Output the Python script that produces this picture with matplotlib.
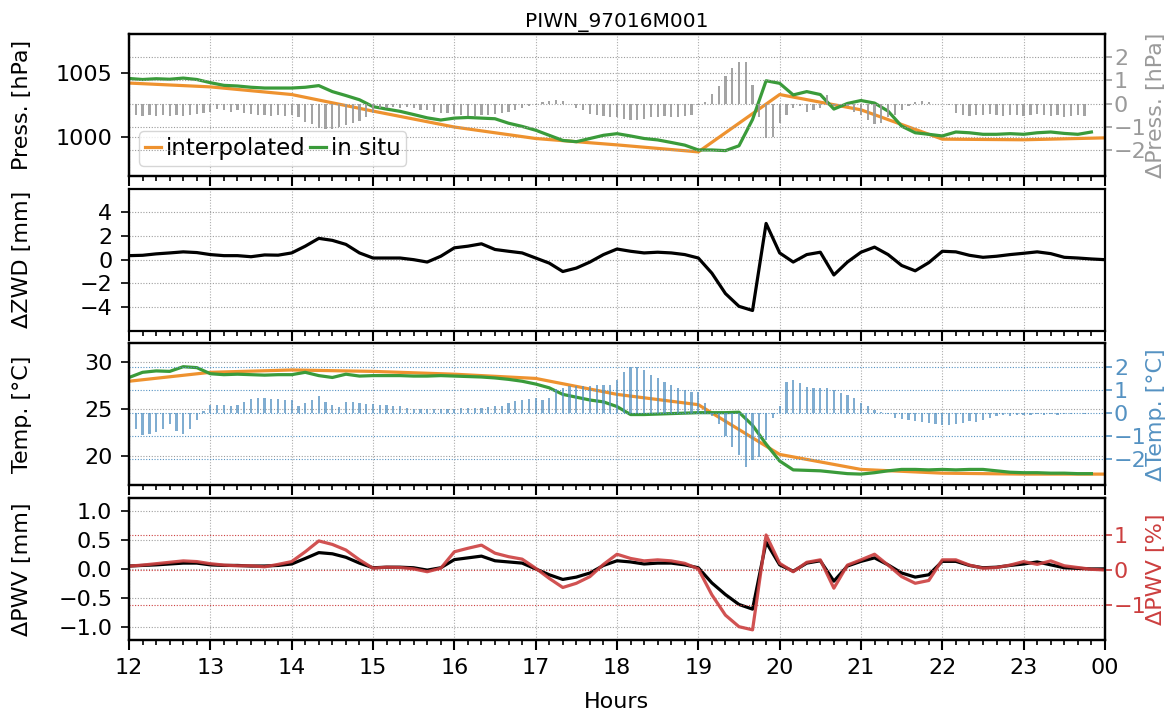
import matplotlib
matplotlib.use("Agg")
import matplotlib.pyplot as plt
import numpy as np
from matplotlib.ticker import FuncFormatter, MultipleLocator

STATION = "PIWN_97016M001"

# time axes (hours after midnight of the previous day, 24 = 00)
t10 = 12 + np.arange(73) / 6          # 10-min samples 12:00 .. 24:00
t_hour = np.arange(12, 25)            # hourly interpolated values
t5 = 12 + np.arange(1, 144) / 12      # 5-min difference bars 12:05 .. 23:55
nan = np.nan

# --- pressure [hPa]
press_interp = [1004.2, 1003.9, 1003.3, 1002.0, 1000.75, 999.85, 999.35,
                998.8, 1003.3, 1002.1, 999.8, 999.75, 999.9]
press_insitu = [
    1004.56, 1004.48, 1004.54, 1004.50, 1004.59, 1004.48,
    1004.23, 1004.02, 1003.97, 1003.87, 1003.81, 1003.81,
    1003.81, 1003.87, 1004.00, 1003.53, 1003.22, 1002.89,
    1002.35, 1002.16, 1001.98, 1001.73, 1001.47, 1001.30,
    1001.45, 1001.50, 1001.45, 1001.40, 1001.05, 1000.80,
    1000.50, 1000.10, 999.70, 999.60, 999.85, 1000.10,
    1000.23, 1000.05, 999.85, 999.74, 999.54, 999.33,
    998.95, 998.95, 998.90, 999.28, 1001.34, 1004.38,
    1004.18, 1003.27, 1003.53, 1003.30, 1002.16, 1002.60,
    1002.83, 1002.63, 1002.00, 1000.82, 1000.30, 1000.18,
    1000.05, 1000.36, 1000.30, 1000.18, 1000.18, 1000.23,
    1000.18, 1000.30, 1000.36, 1000.25, 1000.18, 1000.36,
    nan]
press_diff = [
    -0.50, -0.55, -0.50, -0.55, -0.50, -0.55, -0.50, -0.55, -0.50, -0.45, -0.40, -0.35,
    -0.25, -0.30, -0.35, -0.30, -0.40, -0.45, -0.50, -0.50, -0.55, -0.50, -0.55, -0.50,
    -0.60, -0.80, -0.90, -1.05, -1.10, -1.10, -1.00, -0.95, -0.85, -0.75, -0.60, -0.40,
    -0.20, -0.20, -0.15, -0.20, -0.15, -0.20, -0.30, -0.30, -0.35, -0.40, -0.40, -0.45,
    -0.50, -0.55, -0.55, -0.50, -0.50, -0.45, -0.40, -0.35, -0.30, -0.20, -0.10, -0.05,
    0.05, 0.10, 0.15, 0.10, 0.00, -0.20, -0.30, -0.45, -0.50, -0.55, -0.60, -0.60,
    -0.65, -0.70, -0.70, -0.65, -0.60, -0.60, -0.55, -0.60, -0.60, -0.55, -0.50, -0.05,
    0.05, 0.40, 0.75, 1.20, 1.55, 1.80, 1.80, 0.80, -0.60, -1.50, -1.45, -0.85,
    -0.50, -0.20, -0.10, -0.35, -0.30, -0.20, 0.35, -0.10, -0.05, -0.10, -0.35, -0.50,
    -0.70, -0.90, -0.85, -0.60, -0.50, -0.30, -0.10, 0.05, 0.10, 0.05, 0.00, 0.00,
    -0.05, -0.40, -0.50, -0.55, -0.50, -0.50, -0.45, -0.50, -0.55, -0.50, -0.50, -0.55,
    -0.50, -0.45, -0.50, -0.55, -0.50, -0.60, -0.55, -0.50, -0.55, nan, nan]

# --- zenith wet delay difference [mm]
zwd_diff = [
    0.34, 0.37, 0.49, 0.57, 0.66, 0.60,
    0.43, 0.34, 0.34, 0.25, 0.40, 0.38,
    0.57, 1.14, 1.80, 1.63, 1.29, 0.57,
    0.14, 0.14, 0.14, 0.00, -0.20, 0.29,
    1.00, 1.14, 1.34, 0.86, 0.71, 0.57,
    0.14, -0.29, -1.00, -0.71, -0.20, 0.43,
    0.90, 0.71, 0.57, 0.63, 0.57, 0.43,
    0.14, -1.14, -2.86, -3.94, -4.29, 3.06,
    0.57, -0.20, 0.43, 0.63, -1.29, -0.20,
    0.63, 1.06, 0.43, -0.49, -0.94, -0.25,
    0.71, 0.66, 0.37, 0.20, 0.29, 0.43,
    0.54, 0.66, 0.51, 0.20, 0.14, 0.06,
    0.00]

# --- temperature [degC]
temp_interp = [28.0, 28.95, 29.2, 29.05, 28.75, 28.3, 26.6,
               25.5, 20.2, 18.6, 18.2, 18.1, 18.1]
temp_insitu = [
    28.40, 28.95, 29.10, 29.05, 29.55, 29.45,
    28.80, 28.70, 28.75, 28.70, 28.65, 28.70,
    28.70, 28.95, 28.60, 28.40, 28.75, 28.55,
    28.60, 28.60, 28.60, 28.55, 28.55, 28.60,
    28.55, 28.50, 28.45, 28.35, 28.20, 28.00,
    27.70, 27.30, 26.60, 26.30, 26.00, 25.80,
    25.30, 24.45, 24.45, 24.50, 24.55, 24.60,
    24.65, 24.65, 24.65, 24.70, 23.30, 21.30,
    19.50, 18.55, 18.50, 18.45, 18.30, 18.15,
    18.10, 18.25, 18.45, 18.60, 18.60, 18.55,
    18.60, 18.55, 18.60, 18.60, 18.45, 18.30,
    18.25, 18.25, 18.20, 18.20, 18.15, 18.15,
    nan]
temp_diff = [
    -0.72, -0.97, -0.94, -0.84, -0.70, -0.50, -0.80, -0.94, -0.72, -0.30, 0.10, 0.36,
    0.32, 0.32, 0.29, 0.32, 0.46, 0.62, 0.65, 0.65, 0.62, 0.62, 0.58, 0.55,
    0.29, 0.43, 0.55, 0.72, 0.46, 0.36, 0.26, 0.46, 0.46, 0.43, 0.40, 0.40,
    0.36, 0.32, 0.29, 0.29, 0.22, 0.17, 0.17, 0.17, 0.17, 0.17, 0.17, 0.17,
    0.20, 0.22, 0.22, 0.22, 0.25, 0.29, 0.30, 0.43, 0.50, 0.58, 0.60, 0.65,
    0.58, 0.65, 1.05, 1.10, 1.15, 1.15, 1.15, 1.15, 1.20, 1.20, 1.20, 1.43,
    1.79, 2.00, 2.00, 1.86, 1.64, 1.50, 1.36, 1.21, 1.07, 1.00, 0.93, 0.93,
    0.43, -0.14, -0.50, -1.00, -1.50, -1.86, -2.36, -2.07, -1.93, -1.20, -0.21, 0.29,
    1.36, 1.43, 1.29, 1.14, 1.10, 1.10, 1.07, 1.00, 0.86, 0.79, 0.64, 0.43,
    0.29, 0.14, 0.04, -0.04, -0.21, -0.29, -0.33, -0.36, -0.39, -0.43, -0.47, -0.53,
    -0.53, -0.47, -0.43, -0.36, -0.39, -0.33, -0.21, -0.14, -0.10, -0.14, -0.10, -0.10,
    -0.10, -0.07, -0.10, -0.07, -0.10, -0.04, -0.07, -0.02, -0.05, nan, nan]

# --- precipitable water vapour difference [mm] and [%]
pwv_diff_mm = [
    0.05, 0.06, 0.07, 0.085, 0.10, 0.10,
    0.07, 0.06, 0.06, 0.05, 0.05, 0.06,
    0.085, 0.18, 0.28, 0.26, 0.20, 0.10,
    0.02, 0.03, 0.03, 0.02, -0.02, 0.02,
    0.16, 0.19, 0.22, 0.14, 0.12, 0.10,
    0.00, -0.10, -0.18, -0.14, -0.07, 0.06,
    0.14, 0.12, 0.085, 0.10, 0.10, 0.07,
    0.02, -0.24, -0.44, -0.61, -0.69, 0.46,
    0.07, -0.04, 0.10, 0.14, -0.21, 0.05,
    0.13, 0.19, 0.07, -0.07, -0.14, -0.10,
    0.13, 0.13, 0.06, 0.02, 0.03, 0.06,
    0.085, 0.12, 0.07, 0.02, 0.01, 0.00,
    0.00]
pwv_diff_pct = [
    0.11, 0.14, 0.18, 0.22, 0.26, 0.24,
    0.18, 0.14, 0.12, 0.12, 0.09, 0.16,
    0.24, 0.52, 0.83, 0.73, 0.57, 0.29,
    0.05, 0.08, 0.07, 0.03, -0.05, 0.05,
    0.52, 0.62, 0.71, 0.48, 0.38, 0.31,
    0.05, -0.24, -0.50, -0.38, -0.19, 0.16,
    0.45, 0.33, 0.26, 0.29, 0.26, 0.19,
    0.03, -0.71, -1.29, -1.62, -1.71, 1.00,
    0.19, -0.05, 0.22, 0.29, -0.52, 0.14,
    0.29, 0.45, 0.14, -0.19, -0.38, -0.30,
    0.29, 0.29, 0.14, 0.05, 0.07, 0.14,
    0.24, 0.16, 0.26, 0.12, 0.07, 0.02,
    0.00]

ORANGE = "#ee922f"
GREEN = "#3a9b3a"
GRAY = "#9a9a9a"
BLUE = "#5592c2"
RED = "#cc3f3f"

plt.rcParams["font.size"] = 16

GRID = dict(ls=(0, (1, 1.5)), lw=0.8)


def style_grid(ax, color="0.62"):
    ax.grid(True, which="major", axis="y", color=color, **GRID)


def add_twin(ax, ylim, ticks, color, label):
    tw = ax.twinx()
    tw.set_ylim(*ylim)
    tw.set_yticks(ticks)
    tw.tick_params(axis="y", colors=color, length=5, width=1.2, pad=1.5)
    tw.set_ylabel(label, color=color)
    tw.yaxis.set_label_coords(1.042, 0.5)
    tw.yaxis.label.set(rotation_mode="anchor", va="top", ha="center")
    style_grid(tw, color=color)
    for s in tw.spines.values():
        s.set_linewidth(1.6)
    return tw


fig, axes = plt.subplots(4, 1, sharex=True, figsize=(11.73, 7.17), dpi=100)
fig.subplots_adjust(left=0.110, right=0.942, top=0.9526, bottom=0.1074, hspace=0.088)

for ax in axes:
    ax.set_xlim(12, 24)
    ax.xaxis.set_major_locator(MultipleLocator(1))
    ax.xaxis.set_minor_locator(MultipleLocator(1 / 6))
    ax.tick_params(axis="x", which="major", length=7, width=1.5, pad=6)
    ax.tick_params(axis="x", which="minor", length=3.5, width=1.2)
    ax.tick_params(axis="y", length=6, width=1.2, pad=6)
    ax.grid(True, which="major", axis="x", color="0.68", **GRID)
    style_grid(ax)
    for s in ax.spines.values():
        s.set_linewidth(1.6)
axes[-1].xaxis.set_major_formatter(FuncFormatter(lambda h, _: f"{int(round(h)) % 24:02d}"))

# pressure
ax = axes[0]
ax.set_title(STATION, fontsize=14.5, pad=5)
ax.plot(t_hour, press_interp, color=ORANGE, lw=2.3, label="interpolated")
ax.plot(t10, press_insitu, color=GREEN, lw=2.3, label="in situ")
ax.set_ylim(996.9, 1008.05)
ax.set_yticks([1000, 1005])
ax.set_ylabel("Press. [hPa]")
ax.legend(loc="lower left", ncol=2, handlelength=0.7, handletextpad=0.2,
          columnspacing=0.2, borderpad=0.25, borderaxespad=0.45, fontsize=16.5)
tw = add_twin(ax, (-3.14, 3.01), [-2, -1, 0, 1, 2], GRAY, "ΔPress. [hPa]")
tw.bar(t5, press_diff, width=0.028, color=GRAY, alpha=0.9)

# zenith wet delay
ax = axes[1]
ax.plot(t10, zwd_diff, color="black", lw=2.3)
ax.set_ylim(-6, 6)
ax.set_yticks([-4, -2, 0, 2, 4])
ax.set_ylabel("ΔZWD [mm]")

# temperature
ax = axes[2]
ax.plot(t_hour, temp_interp, color=ORANGE, lw=2.3)
ax.plot(t10, temp_insitu, color=GREEN, lw=2.3)
ax.set_ylim(16.9, 32.05)
ax.set_yticks([20, 25, 30])
ax.set_ylabel("Temp. [°C]")
tw = add_twin(ax, (-3.17, 3.04), [-2, -1, 0, 1, 2], BLUE, "ΔTemp. [°C]")
tw.bar(t5, temp_diff, width=0.028, color=BLUE, alpha=0.75)

# precipitable water vapour
ax = axes[3]
ax.plot(t10, pwv_diff_mm, color="black", lw=2.3)
ax.set_ylim(-1.22, 1.22)
ax.set_yticks([-1.0, -0.5, 0.0, 0.5, 1.0])
ax.set_ylabel("ΔPWV [mm]")
ax.set_xlabel("Hours", labelpad=10)
tw = add_twin(ax, (-2.0, 2.06), [-1, 0, 1], RED, "ΔPWV [%]")
tw.plot(t10, pwv_diff_pct, color=RED, lw=2.3, alpha=0.9)

for ax in axes:
    ax.yaxis.set_label_coords(-0.099, 0.5)

fig.savefig("out.png", dpi=100)
